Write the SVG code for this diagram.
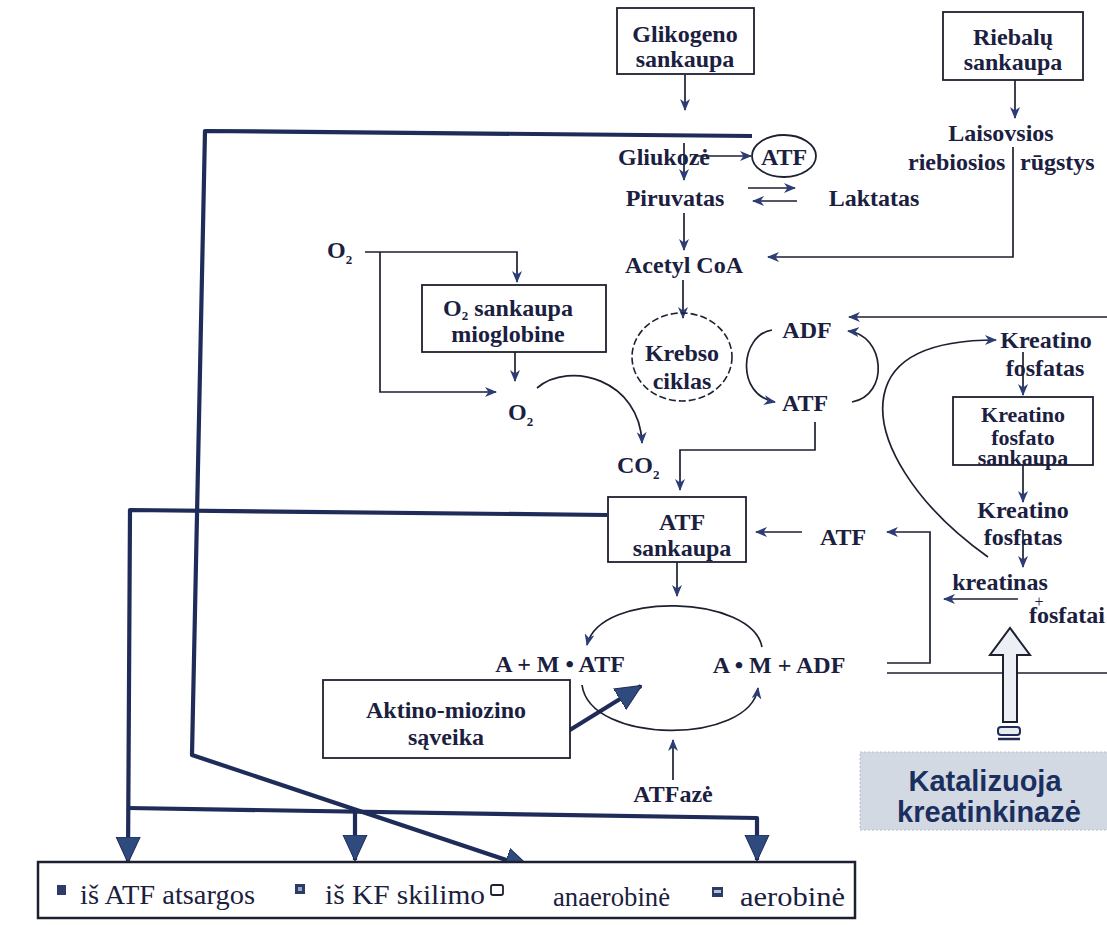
<svg xmlns="http://www.w3.org/2000/svg" width="1107" height="925" viewBox="0 0 1107 925">
<style>
.t{font-family:"Liberation Serif","Times New Roman",serif;font-weight:bold;font-size:24px;fill:#1b2040;text-anchor:middle}
.s{font-size:22px}
.lg{font-family:"Liberation Serif","Times New Roman",serif;font-size:27px;fill:#1b2040}
.box{fill:#fff;stroke:#1d2030;stroke-width:1.8}
.ln{fill:none;stroke:#1d2030;stroke-width:1.7}
.thk{fill:none;stroke:#1f2b58;stroke-width:4.2;stroke-linejoin:round}
.cat{font-family:"Liberation Sans",Arial,sans-serif;font-weight:bold;font-size:29px;fill:#1b2f5e;text-anchor:middle}
</style>
<defs>
<marker id="a" viewBox="0 0 12 10" refX="11" refY="5" markerWidth="12" markerHeight="10" markerUnits="userSpaceOnUse" orient="auto">
<path d="M0,0 L12,5 L0,10 L3.5,5 z" fill="#2b3c78"/>
</marker>
<marker id="big" viewBox="0 0 26 26" refX="25" refY="13" markerWidth="26" markerHeight="26" markerUnits="userSpaceOnUse" orient="auto">
<path d="M0,1 L26,13 L0,25 z" fill="#2f4a7c" stroke="#1f2b58" stroke-width="1"/>
</marker>
</defs>
<rect width="1107" height="925" fill="#fff"/>

<g id="connectors">
<polyline class="thk" points="752,136 205,131 192,755 530,868" marker-end="url(#big)"/>
<polyline class="thk" points="607,515 130,510 128,862" marker-end="url(#big)"/>
<polyline class="thk" points="128,808 757,818 757,860" marker-end="url(#big)"/>
<line class="thk" x1="355" y1="812" x2="355" y2="860" marker-end="url(#big)"/>
<line class="thk" x1="565" y1="733" x2="641" y2="686" marker-end="url(#big)"/>
<path class="ln" d="M685,75 V110" marker-end="url(#a)"/>
<path class="ln" d="M1015,80 V118" marker-end="url(#a)"/>
<path class="ln" d="M684,143 V180" marker-end="url(#a)"/>
<path class="ln" d="M697,156 H751" marker-end="url(#a)"/>
<path class="ln" d="M748,188 H795" marker-end="url(#a)"/>
<path class="ln" d="M797,201 H753" marker-end="url(#a)"/>
<path class="ln" d="M684,213 V250" marker-end="url(#a)"/>
<path class="ln" d="M1013,147 V257 H768" marker-end="url(#a)"/>
<path class="ln" d="M683,280 V318" marker-end="url(#a)"/>
<path class="ln" d="M365,252 H517 V282" marker-end="url(#a)"/>
<path class="ln" d="M380,252 V392 H496" marker-end="url(#a)"/>
<path class="ln" d="M515,352 V381" marker-end="url(#a)"/>
<path class="ln" d="M537,388 C570,360 640,380 642,443" marker-end="url(#a)"/>
<path class="ln" d="M772,330 C740,335 735,395 775,402" marker-end="url(#a)"/>
<path class="ln" d="M852,402 C890,395 885,335 848,331" marker-end="url(#a)"/>
<path class="ln" d="M1107,317 H849" marker-end="url(#a)"/>
<path class="ln" d="M815,422 V450 H680 V490" marker-end="url(#a)"/>
<path class="ln" d="M988,557 C915,505 875,440 884,395 C892,355 935,340 996,340" marker-end="url(#a)"/>
<path class="ln" d="M1023,352 V395" marker-end="url(#a)"/>
<path class="ln" d="M1023,465 V502" marker-end="url(#a)"/>
<path class="ln" d="M1023,530 V567" marker-end="url(#a)"/>
<path class="ln" d="M1018,599 H944" marker-end="url(#a)"/>
<path class="ln" d="M802,532 H756" marker-end="url(#a)"/>
<path class="ln" d="M677,562 V596" marker-end="url(#a)"/>
<path class="ln" d="M762,647 C752,595 600,590 587,645" marker-end="url(#a)"/>
<path class="ln" d="M582,685 C590,745 750,745 758,688" marker-end="url(#a)"/>
<path class="ln" d="M673,780 V740" marker-end="url(#a)"/>
<path class="ln" d="M887,663 H930 V532 H887" marker-end="url(#a)"/>
<path class="ln" d="M887,673 H1107"/>
</g>

<g id="glikogeno"><rect class="box" x="617" y="8" width="137" height="66"/>
<text class="t" x="685" y="42">Glikogeno</text><text class="t" x="685" y="67">sankaupa</text></g>
<g id="riebalu"><rect class="box" x="943" y="12" width="140" height="68"/>
<text class="t" x="1013" y="45">Riebalų</text><text class="t" x="1013" y="70">sankaupa</text></g>
<g id="laisvosios"><text class="t" x="1001" y="141">Laisovsios</text>
<text class="t" style="text-anchor:start"><tspan x="908" y="170">riebiosios</tspan><tspan x="1020" y="170">rūgstys</tspan></text></g>
<g id="gliukoze"><text class="t" x="664" y="165">Gliukozė</text></g>
<g id="atf-top"><ellipse cx="784" cy="156" rx="32" ry="21" fill="none" stroke="#1d2030" stroke-width="1.8"/>
<text class="t" x="784" y="165">ATF</text></g>
<g id="piruvatas"><text class="t" x="675" y="206">Piruvatas</text></g>
<g id="laktatas"><text class="t" x="874" y="206">Laktatas</text></g>
<g id="acetyl"><text class="t" x="684" y="273">Acetyl CoA</text></g>
<g id="o2-top"><text class="t" style="text-anchor:start" x="327" y="258">O<tspan font-size="13" dy="6">2</tspan></text></g>
<g id="o2-box"><rect class="box" x="422" y="285" width="184" height="67"/>
<text class="t" x="508" y="316">O<tspan font-size="13" dy="4">2</tspan><tspan dy="-4"> sankaupa</tspan></text>
<text class="t" x="508" y="342">mioglobine</text></g>
<g id="o2-low"><text class="t" style="text-anchor:start" x="508" y="420">O<tspan font-size="13" dy="6">2</tspan></text></g>
<g id="krebso"><ellipse cx="682" cy="357" rx="50" ry="44" fill="none" stroke="#1d2030" stroke-width="1.6" stroke-dasharray="7,3"/>
<text class="t" x="682" y="361">Krebso</text><text class="t" x="682" y="389">ciklas</text></g>
<g id="adf"><text class="t" x="807" y="338">ADF</text></g>
<g id="atf-krebs"><text class="t" x="805" y="411">ATF</text></g>
<g id="co2"><text class="t" style="text-anchor:start" x="617" y="473">CO<tspan font-size="13" dy="6">2</tspan></text></g>
<g id="kf-top"><text class="t" x="1046" y="348">Kreatino</text><text class="t" x="1045" y="376">fosfatas</text></g>
<g id="kf-box"><rect class="box" x="953" y="397" width="140" height="68"/>
<text class="t s" x="1023" y="422">Kreatino</text><text class="t s" x="1023" y="445">fosfato</text><text class="t s" x="1023" y="465">sankaupa</text></g>
<g id="kf-low"><text class="t" x="1023" y="518">Kreatino</text><text class="t" x="1023" y="545">fosfatas</text></g>
<g id="kreatinas"><text class="t" x="1000" y="590">kreatinas</text>
<text class="t" x="1039" y="607" style="font-weight:normal;font-size:16px">+</text>
<text class="t" style="text-anchor:start" x="1029" y="623">fosfatai</text></g>
<g id="atf-box"><rect class="box" x="608" y="497" width="138" height="65"/>
<text class="t" x="682" y="530">ATF</text><text class="t" x="682" y="556">sankaupa</text></g>
<g id="atf-right"><text class="t" x="843" y="545">ATF</text></g>
<g id="am-atf"><text class="t" x="560" y="672">A + M • ATF</text></g>
<g id="am-adf"><text class="t" x="779" y="673">A • M + ADF</text></g>
<g id="aktino"><rect class="box" x="323" y="680" width="247" height="78"/>
<text class="t" x="446" y="718">Aktino-miozino</text><text class="t" x="446" y="745">sąveika</text></g>
<g id="atfaze"><text class="t" x="673" y="802">ATFazė</text></g>
<g id="hollow-arrow">
<path d="M1003,722 V655 H990 L1010,628 L1030,655 H1017 V722 Z" fill="#eceff3" stroke="#1d2030" stroke-width="2"/>
<rect x="998" y="727" width="22" height="8" rx="3" fill="#e8ebf0" stroke="#1f2b58" stroke-width="2"/>
<line x1="998" y1="739" x2="1020" y2="739" stroke="#1f2b58" stroke-width="2.5"/>
</g>
<g id="katalizuoja"><rect x="860" y="752" width="250" height="78" fill="#d3d9e3" stroke="#b8bfcc" stroke-width="1" stroke-dasharray="2,2"/>
<text class="cat" x="985" y="791">Katalizuoja</text><text class="cat" x="989" y="822">kreatinkinazė</text></g>
<g id="legend"><rect x="38" y="862" width="817" height="56" fill="#fff" stroke="#1d2030" stroke-width="2.5"/>
<rect x="57" y="885" width="9" height="10" fill="#2b3c68"/>
<text class="lg" x="80" y="904" textLength="175" lengthAdjust="spacingAndGlyphs">iš ATF atsargos</text>
<rect x="295" y="884" width="10" height="10" fill="#2b3c68"/><rect x="298" y="887" width="4" height="4" fill="#9aa6c0"/>
<text class="lg" x="325" y="904" textLength="160" lengthAdjust="spacingAndGlyphs">iš KF skilimo</text>
<rect x="491" y="885" width="12" height="10" rx="2" fill="#fff" stroke="#1d2030" stroke-width="1.8"/>
<text class="lg" x="553" y="906" textLength="117" lengthAdjust="spacingAndGlyphs">anaerobinė</text>
<rect x="712" y="887" width="11" height="10" fill="#2b3c68"/><rect x="714" y="890" width="7" height="3" fill="#b8c0d4"/>
<text class="lg" x="740" y="906" textLength="105" lengthAdjust="spacingAndGlyphs">aerobinė</text></g>
</svg>
